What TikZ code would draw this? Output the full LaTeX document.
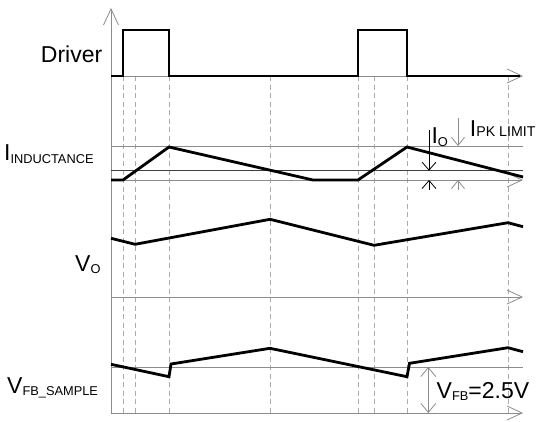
\documentclass[tikz,border=0pt]{standalone}
\usepackage{fontspec}
\setmainfont{Liberation Sans}
\usetikzlibrary{arrows.meta}
\definecolor{axisgray}{HTML}{8C8C8C}
\definecolor{dashgray}{HTML}{ABABAB}
\definecolor{midline}{HTML}{404040}
\newcommand\subtxt[2][-2.5pt]{\raisebox{#1}{\fontsize{12.8}{13}\selectfont #2}}
\begin{document}
\begin{tikzpicture}[x=1pt,y=-1pt,
  axis/.style={draw=axisgray, line width=0.8pt},
  axisarrow/.style={axis, -{Straight Barb[length=15pt,width=14pt,line width=0.8pt]}},
  darkaxis/.style={draw=midline, line width=0.8pt},
  dashline/.style={draw=dashgray, line width=0.8pt, dash pattern=on 5pt off 3.5pt},
  wave/.style={draw=black, line width=2.8pt, line join=miter},
  blkarrow/.style={draw=black, line width=0.8pt, -{Straight Barb[length=8pt,width=14pt,line width=0.8pt]}},
  grayarrow/.style={draw=axisgray, line width=0.8pt, -{Straight Barb[length=8pt,width=13pt,line width=0.8pt]}},
  graydbl/.style={draw=axisgray, line width=0.8pt, {Straight Barb[length=9pt,width=15pt,line width=0.8pt]}-{Straight Barb[length=9pt,width=15pt,line width=0.8pt]}},
  lbl/.style={inner sep=0pt, font=\fontsize{23}{24}\selectfont}
]
\useasboundingbox (0,0) rectangle (540,421);

% dashed time markers
\foreach \x in {123,135,169,270,358,374,407,508}
  \draw[dashline] (\x,76) -- (\x,413);

% vertical axis
\draw[axis, -{Straight Barb[length=16pt,width=15pt,line width=0.8pt]}] (111,413) -- (111,8);

% horizontal axes and reference lines
\draw[axisarrow] (111,76) -- (523,76);
\draw[axis] (111,146) -- (523,146);
\draw[darkaxis] (111,170.7) -- (523,170.7);
\draw[axisarrow] (111,180) -- (523,180);
\draw[axisarrow] (111,297) -- (523,297);
\draw[axis] (111,367) -- (523,367);
\draw[axisarrow] (111,413) -- (523,413);

% waveforms
\draw[wave] (111,76) -- (123,76) -- (123,30) -- (169,30) -- (169,76) -- (358,76)
  -- (358,30) -- (407,30) -- (407,76) -- (520,76);
\draw[wave] (111,180) -- (123,180) -- (169,147) -- (313,180) -- (358,180)
  -- (407,147) -- (523,177);
\draw[wave] (111,238.3) -- (135,244.3) -- (270,219.3) -- (374,245.3)
  -- (508,222.7) -- (523,226.7);
\draw[wave] (111,364.3) -- (169,376.7) -- (171,364) -- (270,348.3) -- (407,376.7)
  -- (409.5,363.3) -- (508,347.7) -- (523,351.7);

% annotations
\coordinate (ioTop) at (429,130);
\coordinate (ioA) at (429,170.7);
\coordinate (ioBot) at (429,190);
\coordinate (ioB) at (429,180);
\draw[blkarrow] (ioTop) -- (ioA);
\draw[blkarrow] (ioBot) -- (ioB);

\coordinate (pkTop) at (458,118);
\coordinate (pkA) at (458,146);
\coordinate (pkBot) at (458,190);
\coordinate (pkB) at (458,180);
\draw[grayarrow] (pkTop) -- (pkA);
\draw[grayarrow] (pkBot) -- (pkB);

\coordinate (fbA) at (428.3,367);
\coordinate (fbB) at (428.3,413);
\draw[graydbl] (fbA) -- (fbB);

% labels
\node[lbl, anchor=base east] (drv) at (102.5,62.7) {Driver};
\node[lbl, anchor=base west] (iind) at (4,160.7) {I\subtxt{INDUCTANCE}};
\node[lbl, anchor=base west] (vo) at (75,271.7) {V\subtxt[-2pt]{O}};
\node[lbl, anchor=base west] (vfbs) at (7,393.3) {V\subtxt[-1.8pt]{FB\_SAMPLE}};
\node[lbl, anchor=base west] (io) at (431.3,143.3) {I\subtxt[-3pt]{O}};
\node[lbl, anchor=base west] (ipk) at (469.7,136) {I\raisebox{-0.8pt}{\fontsize{14.2}{15}\selectfont PK LIMIT}};
\node[lbl, anchor=base west] (vfb) at (436.5,398.3) {V\subtxt[-2.4pt]{FB}=2.5V};
\end{tikzpicture}
\end{document}
